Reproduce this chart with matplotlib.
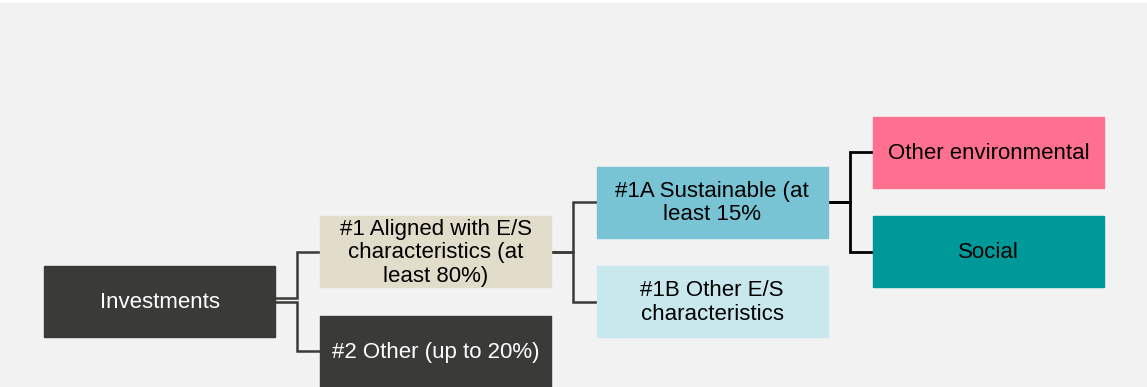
import matplotlib
matplotlib.use("Agg")
import matplotlib.pyplot as plt
from matplotlib.patches import Rectangle

# ---- data ----
labels = ["Investments", "#1 Aligned with E/S\ncharacteristics (at\nleast 80%)", "#2 Other (up to 20%)",
          "#1A Sustainable (at\nleast 15%", "#1B Other E/S\ncharacteristics",
          "Other environmental", "Social"]
parents = [None, 0, 0, 1, 1, 3, 3]
side = [0, -1, 1, -1, 1, -1, 1]          # above (-1) / below (+1) parent
box_colors = ["#3a3b38", "#e2dccb", "#3a3b38", "#78c4d4", "#c9e8ed", "#ff6f8f", "#009999"]
text_colors = ["white", "black", "white", "black", "black", "black", "black"]

# ---- layout / style ----
W, H = 1147, 387
x0, col_step, box_w, box_h = 44, 276.3, 231, 71
root_cy, row_step = 301.5, 49.7
elbow = 22
bg = "#f2f2f2"

fig = plt.figure(figsize=(W / 100, H / 100), dpi=100, facecolor="white")
ax = fig.add_axes([0, 0, 1, 1])
ax.set_xlim(0, W)
ax.set_ylim(H, 0)
ax.axis("off")
ax.add_patch(Rectangle((0, 3), W, H - 3, color=bg, zorder=0))

levels, cys = [], []
for i, p in enumerate(parents):
    if p is None:
        levels.append(0)
        cys.append(root_cy)
    else:
        levels.append(levels[p] + 1)
        cys.append(cys[p] + side[i] * row_step)

for i, lab in enumerate(labels):
    x = x0 + levels[i] * col_step
    cy = cys[i]
    ax.add_patch(Rectangle((x, cy - box_h / 2), box_w, box_h, color=box_colors[i], zorder=2))
    ax.text(x + box_w / 2, cy + 1, lab, ha="center", va="center", color=text_colors[i],
            fontsize=16, family="Liberation Sans", linespacing=1.15, zorder=3)

for i, p in enumerate(parents):
    if p is None:
        continue
    px = x0 + levels[p] * col_step + box_w
    mx = px + elbow
    cx = x0 + levels[i] * col_step
    col = "black" if levels[i] >= 3 else "#3a3b38"
    lw = 2.0 if levels[i] >= 3 else 1.8
    sy = cys[p]
    if levels[p] == 0:
        sy = cys[p] + (-4 if side[i] < 0 else 0)
    ax.plot([px, mx, mx, cx], [sy, sy, cys[i], cys[i]], color=col, lw=lw,
            solid_joinstyle="miter", solid_capstyle="butt", zorder=1)

fig.savefig("out.png", dpi=100, facecolor="white")
